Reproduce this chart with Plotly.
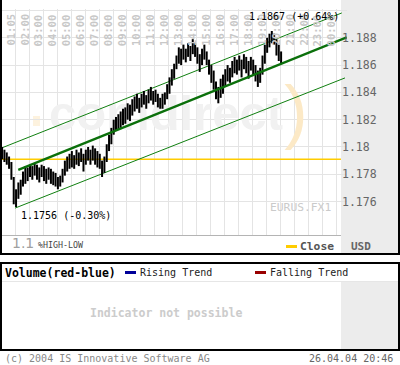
import plotly.graph_objects as go

W, H = 400, 365

# ---------------- data ----------------
hour_ticks = list(range(1, 25))
hour_labels = ["01:05", "02:00", "03:00", "04:00", "05:00", "06:00", "07:00", "08:00",
               "09:00", "10:00", "11:00", "12:00", "13:00", "14:00", "15:00", "16:00",
               "17:00", "18:00", "19:00", "20:00", "21:00", "22:00", "23:00", "00:00"]

price_ticks = [1.176, 1.178, 1.180, 1.182, 1.184, 1.186, 1.188, 1.190]
price_labels = ["1.176", "1.178", "1.18", "1.182", "1.184", "1.186", "1.188", ""]

bar_start_hour = 0.05
bar_step_hours = 1 / 6  # 10-minute high-low bars

highs = [1.1800, 1.1798, 1.1796, 1.1793, 1.1789, 1.1778, 1.1769, 1.1774, 1.1776, 1.1782,
         1.1786, 1.1785, 1.1787, 1.1786, 1.1788, 1.1787, 1.1785, 1.1787, 1.1786, 1.1784,
         1.1785, 1.1784, 1.1782, 1.1781, 1.1778, 1.1779, 1.1784, 1.1790, 1.1793, 1.1795,
         1.1797, 1.1794, 1.1798, 1.1796, 1.1799, 1.1795, 1.1798, 1.1800, 1.1798, 1.1801,
         1.1799, 1.1797, 1.1795, 1.1790, 1.1793, 1.1802, 1.1809, 1.1814, 1.1820, 1.1822,
         1.1824, 1.1826, 1.1828, 1.1829, 1.1832, 1.1831, 1.1835, 1.1837, 1.1839, 1.1836,
         1.1839, 1.1841, 1.1838, 1.1842, 1.1844, 1.1841, 1.1842, 1.1839, 1.1836, 1.1839,
         1.1840, 1.1846, 1.1851, 1.1857, 1.1861, 1.1867, 1.1873, 1.1872, 1.1875, 1.1872,
         1.1876, 1.1874, 1.1879, 1.1876, 1.1873, 1.1868, 1.1872, 1.1875, 1.1870, 1.1864,
         1.1860, 1.1856, 1.1848, 1.1844, 1.1850, 1.1853, 1.1857, 1.1860, 1.1858, 1.1863,
         1.1866, 1.1864, 1.1867, 1.1864, 1.1868, 1.1866, 1.1863, 1.1866, 1.1864, 1.1860,
         1.1856, 1.1858, 1.1867, 1.1875, 1.1880, 1.1883, 1.1885, 1.1883, 1.1879, 1.1875,
         1.1870]
lows = [1.1791, 1.1789, 1.1787, 1.1784, 1.1776, 1.1758, 1.1756, 1.1762, 1.1765, 1.1771,
        1.1773, 1.1775, 1.1778, 1.1776, 1.1779, 1.1776, 1.1774, 1.1778, 1.1775, 1.1773,
        1.1776, 1.1773, 1.1772, 1.1771, 1.1769, 1.1771, 1.1774, 1.1779, 1.1782, 1.1784,
        1.1785, 1.1784, 1.1787, 1.1786, 1.1789, 1.1782, 1.1787, 1.1790, 1.1787, 1.1790,
        1.1787, 1.1785, 1.1784, 1.1778, 1.1781, 1.1789, 1.1797, 1.1802, 1.1809, 1.1812,
        1.1813, 1.1814, 1.1816, 1.1817, 1.1820, 1.1819, 1.1823, 1.1826, 1.1828, 1.1825,
        1.1829, 1.1831, 1.1828, 1.1832, 1.1834, 1.1831, 1.1833, 1.1829, 1.1828, 1.1828,
        1.1831, 1.1835, 1.1839, 1.1845, 1.1850, 1.1857, 1.1861, 1.1860, 1.1864, 1.1862,
        1.1866, 1.1863, 1.1868, 1.1866, 1.1861, 1.1855, 1.1860, 1.1864, 1.1860, 1.1853,
        1.1847, 1.1842, 1.1835, 1.1832, 1.1836, 1.1839, 1.1844, 1.1848, 1.1847, 1.1851,
        1.1854, 1.1853, 1.1856, 1.1851, 1.1857, 1.1854, 1.1850, 1.1856, 1.1853, 1.1848,
        1.1844, 1.1847, 1.1853, 1.1861, 1.1869, 1.1873, 1.1876, 1.1875, 1.1867, 1.1863,
        1.1861]

# trend channel (start/end points in hours / price)
upper_x, upper_y = [-0.10, 24.40], [1.17988, 1.18982]
middle_x, middle_y = [1.21, 24.75], [1.17833, 1.18804]
lower_x, lower_y = [0.975, 24.63], [1.17552, 1.18506]

prev_close = 1.1791
close_x = [-0.10, 24.34]

high_text = "1.1867 (+0.64%)"
low_text = "1.1756 (-0.30%)"

# watermark anchor (hours / price)
logo_x, logo_y = 11.80, 1.18215
logo_paren_x = 21.12

# ---------------- figure ----------------
MONO = "DejaVu Sans Mono"


def px(x):
    return x / W


def py(y):
    return 1 - y / H


fig = go.Figure()

# watermark (drawn first, underneath everything)
fig.add_trace(go.Scatter(x=[logo_x], y=[logo_y], mode="text", text=["<b>comdirect</b>"],
                         textposition="middle center", cliponaxis=False,
                         textfont=dict(family="Liberation Sans", size=49, color="#f1f1f1"),
                         hoverinfo="skip"))
fig.add_trace(go.Scatter(x=[logo_paren_x], y=[logo_y], mode="text", text=[")"],
                         textposition="middle center", cliponaxis=False,
                         textfont=dict(family="Liberation Sans", size=70, color="#fce9c6"),
                         hoverinfo="skip"))

bx, by = [], []
for i, (hi, lo) in enumerate(zip(highs, lows)):
    t = bar_start_hour + i * bar_step_hours
    bx += [t, t, None]
    by += [lo, hi, None]

fig.add_trace(go.Scatter(x=close_x, y=[prev_close, prev_close], mode="lines",
                         line=dict(color="#ffcc00", width=1.5), hoverinfo="skip"))
fig.add_trace(go.Scatter(x=upper_x, y=upper_y, mode="lines",
                         line=dict(color="#108010", width=1), hoverinfo="skip"))
fig.add_trace(go.Scatter(x=lower_x, y=lower_y, mode="lines",
                         line=dict(color="#108010", width=1), hoverinfo="skip"))
fig.add_trace(go.Scatter(x=bx, y=by, mode="lines",
                         line=dict(color="black", width=2), hoverinfo="skip"))
fig.add_trace(go.Scatter(x=middle_x, y=middle_y, mode="lines",
                         line=dict(color="#0b700b", width=2.4), hoverinfo="skip"))

shapes = []
shapes.append(dict(type="rect", xref="paper", yref="paper", x0=px(341), x1=px(398),
                   y0=py(0), y1=py(253), fillcolor="#ececec", line=dict(width=0), layer="below"))
shapes.append(dict(type="rect", xref="paper", yref="paper", x0=px(341), x1=px(398),
                   y0=py(282), y1=py(349), fillcolor="#ececec", line=dict(width=0), layer="below"))
shapes.append(dict(type="rect", xref="paper", yref="paper", x0=px(33), x1=px(40),
                   y0=py(116), y1=py(126), fillcolor="#fdf2de", line=dict(width=0), layer="below"))
shapes.append(dict(type="line", xref="paper", yref="paper", x0=px(1), x1=px(341),
                   y0=py(235.5), y1=py(235.5), line=dict(color="#b4b4b4", width=1)))
shapes.append(dict(type="line", xref="paper", yref="paper", x0=px(1), x1=px(398),
                   y0=py(281.5), y1=py(281.5), line=dict(color="#e6e6e6", width=1)))
shapes.append(dict(type="rect", xref="paper", yref="paper", x0=px(1), x1=px(399),
                   y0=py(-5), y1=py(254), line=dict(color="black", width=2)))
shapes.append(dict(type="rect", xref="paper", yref="paper", x0=px(1), x1=px(399),
                   y0=py(263), y1=py(350), line=dict(color="black", width=2)))
shapes.append(dict(type="line", xref="paper", yref="paper", x0=px(286), x1=px(297),
                   y0=py(246.5), y1=py(246.5), line=dict(color="#ffcc00", width=3)))
shapes.append(dict(type="line", xref="paper", yref="paper", x0=px(125), x1=px(136),
                   y0=py(272.5), y1=py(272.5), line=dict(color="#000099", width=3)))
shapes.append(dict(type="line", xref="paper", yref="paper", x0=px(255), x1=px(266),
                   y0=py(272.5), y1=py(272.5), line=dict(color="#990000", width=3)))

ann = []


def text(s, x, y, size=10, color="#000", anchor="left", family=MONO, bold=False, **kw):
    if bold:
        s = "<b>" + s + "</b>"
    ann.append(dict(text=s, x=px(x), y=py(y), xref="paper", yref="paper", showarrow=False,
                    xanchor=anchor, yanchor="middle",
                    font=dict(family=family, size=size, color=color), **kw))


for h, lab in zip(hour_ticks, hour_labels):
    ann.append(dict(text="<b>" + lab + "</b>", x=h, xref="x", y=py(12), yref="paper",
                    showarrow=False, textangle=-90, xanchor="center", yanchor="top",
                    xshift=-4.8, font=dict(family=MONO, size=10.5, color="#c8c8c8")))

text(high_text, 294, 16.5, size=10, anchor="center")
text(low_text, 66, 215.5, size=10, anchor="center")
text("EURUS.FX1", 333, 207.5, size=11.3, color="#cacaca", anchor="right")

text("1.1", 10, 243, size=14, color="#a0a0a0", family="DejaVu Sans")
text("%HIGH-LOW", 36, 245, size=8.3, color="#444")
text("Close", 298, 246.5, size=11.3, color="#555", bold=True)
text("USD", 349, 246.5, size=11, color="#666", bold=True)

text("Volume(red-blue)", 3, 272.5, size=11.5, color="#000", bold=True)
text("Rising Trend", 138, 272.5, size=10, color="#222")
text("Falling Trend", 268, 272.5, size=10, color="#222")
text("Indicator not possible", 166, 313, size=11.5, color="#cccccc", anchor="center", bold=True)

text("(c) 2004 IS Innovative Software AG", 3, 358.5, size=10, color="#888")
text("26.04.04 20:46", 395, 358.5, size=10, color="#666", anchor="right")

fig.update_layout(
    width=W, height=H,
    margin=dict(l=0, r=0, t=0, b=0, pad=0),
    paper_bgcolor="white",
    plot_bgcolor="rgba(0,0,0,0)",
    showlegend=False,
    shapes=shapes,
    annotations=ann,
    xaxis=dict(domain=[0, px(347)], range=[-0.1004, 24.774], tickvals=hour_ticks,
               showticklabels=False, showgrid=True, gridcolor="#e4e4e4", gridwidth=1,
               zeroline=False, showline=False, ticks="", fixedrange=True),
    yaxis=dict(domain=[py(235), py(9)], range=[1.17355, 1.19011], tickvals=price_ticks,
               ticktext=price_labels, side="right", anchor="free", position=px(341),
               showgrid=True, gridcolor="#e4e4e4", gridwidth=1, zeroline=False,
               showline=False, ticks="",
               tickfont=dict(family=MONO, size=11.5, color="#666"), fixedrange=True),
)

fig.write_html("out.html")
